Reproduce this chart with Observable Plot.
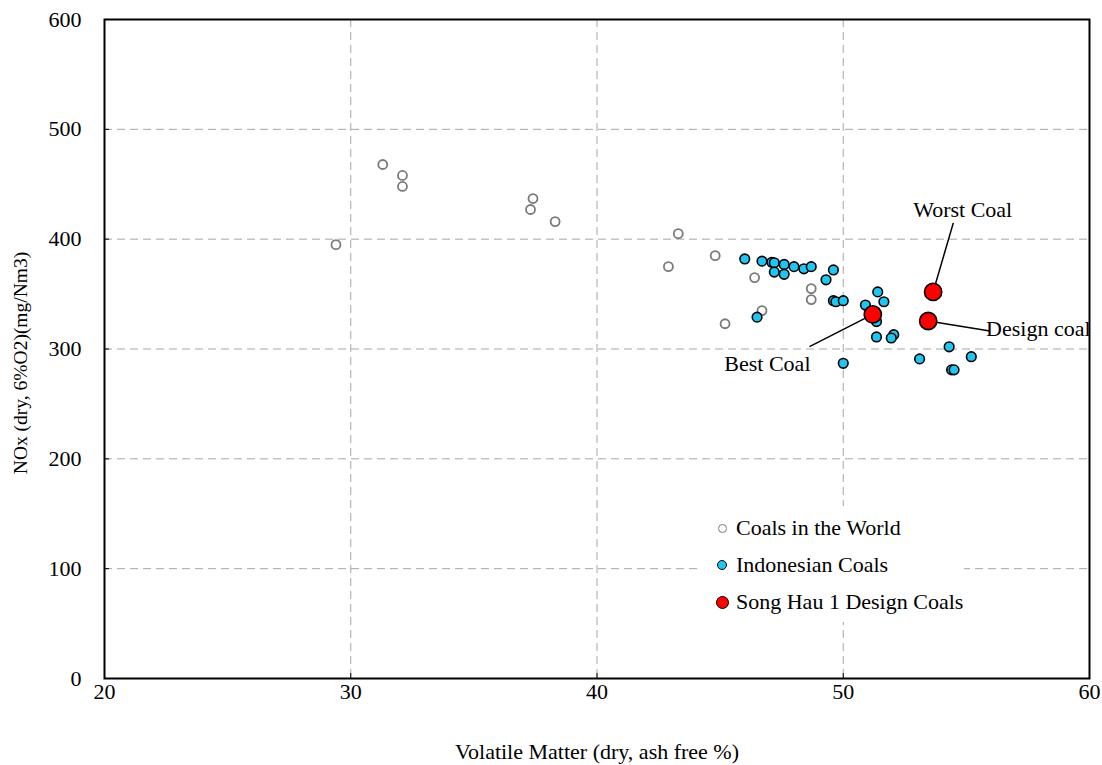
<!DOCTYPE html>
<html>
<head>
<meta charset="utf-8">
<script src="https://cdn.jsdelivr.net/npm/d3@7"></script>
<script src="https://cdn.jsdelivr.net/npm/@observablehq/plot@0.6"></script>
<style>
  body { margin: 0; background: #fff; }
  #wrap { position: relative; width: 1102px; height: 765px; }
  #legend { position: absolute; left: 702px; top: 506px; width: 262px; height: 116px; background: #fff;
            font-family: "Liberation Serif", "Times New Roman", serif; font-size: 22px; color: #000; }
  .sw { position: absolute; box-sizing: border-box; border-radius: 50%; }
  .lt { position: absolute; left: 34px; line-height: 24px; white-space: nowrap; }
</style>
</head>
<body>
<div id="wrap">
  <div id="chart"></div>
  <div id="legend"></div>
</div>
<script>
// ---- Data ----
const xTicks = [20, 30, 40, 50, 60];
const yTicks = [0, 100, 200, 300, 400, 500, 600];
const xGrid = [30, 40, 50];
const yGrid = [100, 200, 300, 400, 500];

const xTitle = "Volatile Matter (dry, ash free %)";
const yTitle = "NOx (dry, 6%O2)(mg/Nm3)";

// Coals in the World
const worldX = [29.4, 31.3, 32.1, 32.1, 37.3, 37.4, 38.3, 43.3, 42.9, 44.8, 46.4, 46.7, 45.2, 48.7, 48.7];
const worldY = [395, 468, 458, 448, 427, 437, 416, 405, 375, 385, 365, 335, 323, 355, 345];

// Indonesian Coals
const indoX = [46.0, 46.7, 47.1, 47.2, 47.6, 47.2, 47.6, 48.0, 48.4, 48.7, 49.6, 49.3, 49.6, 49.7, 50.0,
               46.5, 50.0, 51.4, 51.65, 50.9, 51.35, 51.35, 52.05, 51.95, 53.1, 54.3, 55.2, 54.4, 54.5];
const indoY = [382, 380, 379, 378.5, 377, 370, 368, 375, 373, 375, 372, 363, 344, 343, 344,
               329, 287, 352, 343, 340, 325, 311, 313, 310, 291, 302, 293, 281, 281];

// Song Hau 1 Design Coals
const songName = ["Best Coal", "Worst Coal", "Design coal"];
const songX = [51.2, 53.65, 53.45];
const songY = [331.5, 352, 325.5];

// Annotation label placement (data units)
const annTextX = [46.92, 54.85, 55.8];
const annTextY = [286.4, 426.4, 318.2];
const annLineX = [48.63, 54.47, 55.96];
const annLineY = [302.1, 414.8, 316.4];
const annAnchor = ["middle", "middle", "start"];

const seriesNames = ["Coals in the World", "Indonesian Coals", "Song Hau 1 Design Coals"];

// ---- Build ----
const world = worldX.map((x, i) => ({x, y: worldY[i]}));
const indo = indoX.map((x, i) => ({x, y: indoY[i]}));
const song = songX.map((x, i) => ({x, y: songY[i], name: songName[i]}));
const ann = songName.map((label, i) => ({
  label, px: songX[i], py: songY[i], tx: annTextX[i], ty: annTextY[i],
  lx: annLineX[i], ly: annLineY[i], anchor: annAnchor[i]
}));

const font = "'Liberation Serif', 'Times New Roman', serif";
const gridStyle = {stroke: "#a6a6a6", strokeOpacity: 1, strokeDasharray: "8,5", strokeWidth: 1};

const chart = Plot.plot({
  width: 1102,
  height: 765,
  marginLeft: 104,
  marginRight: 13,
  marginTop: 19,
  marginBottom: 87,
  style: {fontFamily: font, background: "#fff", color: "#000"},
  x: {domain: [20, 60]},
  y: {domain: [0, 600]},
  marks: [
    Plot.gridX(xGrid, gridStyle),
    Plot.gridY(yGrid, gridStyle),
    Plot.ruleX(xGrid, {y1: 0, y2: 0, insetBottom: 5, stroke: "#000"}),
    Plot.ruleY(yGrid, {x1: 20, x2: 20, insetRight: -5, stroke: "#000"}),
    Plot.axisX(xTicks, {tickSize: 0, tickPadding: 5, fontSize: 22, label: null}),
    Plot.axisY(yTicks, {tickSize: 0, tickPadding: 23, fontSize: 22, label: null}),
    Plot.text([xTitle], {text: d => d, frameAnchor: "bottom", dy: 80, fontSize: 22}),
    Plot.text([yTitle], {text: d => d, frameAnchor: "left", textAnchor: "middle", dx: -84, dy: 14, rotate: -90, fontSize: 19.5}),
    Plot.dot(world, {x: "x", y: "y", r: 4.5, fill: "none", stroke: "#7a7a7a", strokeWidth: 1.8}),
    Plot.dot(indo, {x: "x", y: "y", r: 4.8, fill: "#1fc6f2", stroke: "#000", strokeWidth: 1.6}),
    Plot.link(ann, {x1: "lx", y1: "ly", x2: "px", y2: "py", stroke: "#000", strokeWidth: 1.5}),
    Plot.dot(song, {x: "x", y: "y", r: 8.6, fill: "#ff0000", stroke: "#000", strokeWidth: 1.6}),
    Plot.text(ann.filter(d => d.anchor === "middle"), {x: "tx", y: "ty", text: "label", textAnchor: "middle", fontSize: 22}),
    Plot.text(ann.filter(d => d.anchor === "start"), {x: "tx", y: "ty", text: "label", textAnchor: "start", fontSize: 22}),
    Plot.frame({stroke: "#000", strokeWidth: 2})
  ]
});
document.getElementById("chart").appendChild(chart);

// ---- Legend ----
const legend = document.getElementById("legend");
const swatches = [
  {d: 9, fill: "#fff", border: "1.6px solid #7a7a7a"},
  {d: 10, fill: "#1fc6f2", border: "1.6px solid #000"},
  {d: 13, fill: "#ff0000", border: "1.6px solid #000"}
];
const rowY = [22, 59, 96];
seriesNames.forEach((name, i) => {
  const s = document.createElement("div");
  s.className = "sw";
  const sw = swatches[i];
  s.style.width = sw.d + "px";
  s.style.height = sw.d + "px";
  s.style.left = (20 - sw.d / 2) + "px";
  s.style.top = (rowY[i] - sw.d / 2) + "px";
  s.style.background = sw.fill;
  s.style.border = sw.border;
  legend.appendChild(s);
  const t = document.createElement("div");
  t.className = "lt";
  t.style.top = (rowY[i] - 12) + "px";
  t.textContent = name;
  legend.appendChild(t);
});
</script>
</body>
</html>
